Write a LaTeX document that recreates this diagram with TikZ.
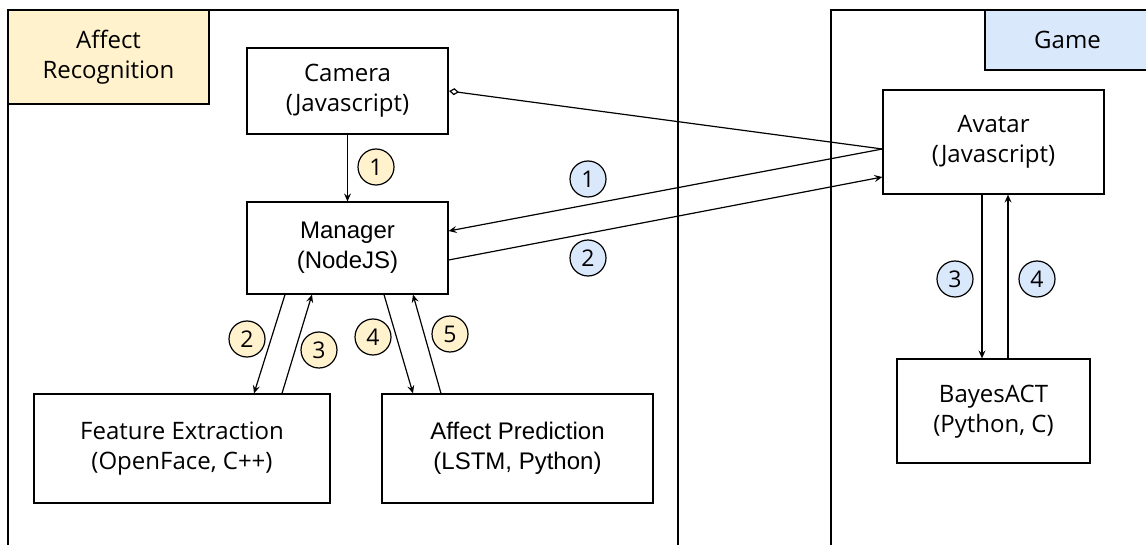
\documentclass[tikz,border=0pt]{standalone}
\usepackage{fontspec}
\setmainfont{Open Sans}
\newfontfamily\arialfont{Liberation Sans}
\usetikzlibrary{arrows.meta}
\definecolor{yfill}{HTML}{FFF2CC}
\definecolor{bfill}{HTML}{DAE8FC}
\newcommand{\twolines}[2]{\raisebox{-4pt}{\begin{tabular}{@{}c@{}}#1\\#2\end{tabular}}}
\tikzset{
  box/.style={draw=black, line width=1.2pt, fill=white, align=center, inner sep=0pt,
    font=\fontsize{24}{30}\selectfont},
  numc/.style={draw=black, line width=1.2pt, circle, minimum size=36pt, inner sep=0pt,
    font=\fontsize{23}{29}\selectfont},
  ycirc/.style={numc, fill=yfill},
  bcirc/.style={numc, fill=bfill},
  frame/.style={draw=black, line width=1.2pt},
  conn/.style={draw=black, line width=1.2pt, -{Stealth[length=8pt,width=7pt,inset=3pt]}},
  diam/.style={draw=black, line width=1.2pt, {Diamond[open,length=10pt,width=7pt]}-}
}
\begin{document}
\begin{tikzpicture}[x=1pt,y=-1pt]
\useasboundingbox (0,0) rectangle (1146,545);
\clip (0,0) rectangle (1146,545);
\fill[white] (0,0) rectangle (1146,545);
% frames
\draw[frame] (8,560) -- (8,10) -- (678,10) -- (678,560);
\draw[frame] (831,560) -- (831,10) -- (1160,10);
% container labels
\node[box, fill=yfill, minimum width=201pt, minimum height=94pt] (arlab) at (108.5,57) {Affect\\Recognition};
\node[box, fill=bfill, minimum width=165pt, minimum height=60pt] (gamelab) at (1067.5,40) {Game};
% boxes
\node[box, minimum width=201pt, minimum height=86pt] (cam) at (347.5,91) {\twolines{Camera}{(Javascript)}};
\node[box, minimum width=201pt, minimum height=92pt] (mgr) at (347.5,248) {\arialfont\twolines{Manager}{(NodeJS)}};
\node[box, minimum width=296pt, minimum height=109pt] (fe) at (182,448.5) {\twolines{Feature Extraction}{(OpenFace, C++)}};
\node[box, minimum width=271pt, minimum height=109pt] (ap) at (517.5,448.5) {\arialfont\twolines{Affect Prediction}{(LSTM, Python)}};
\node[box, minimum width=221pt, minimum height=104pt] (av) at (993.5,142) {\twolines{Avatar}{(Javascript)}};
\node[box, minimum width=193pt, minimum height=104pt] (ba) at (993.5,411) {\twolines{BayesACT}{(Python, C)}};
% connectors
\draw[conn] (cam) -- (mgr);
\draw[diam] ([xshift=0.5pt]cam.east) -- ([yshift=-7pt]av.west);
\draw[conn] ([yshift=-7pt]av.west) -- ([yshift=17pt]mgr.east);
\draw[conn] ([yshift=-12pt]mgr.east) -- ([yshift=-35pt]av.west);
\draw[conn] ([xshift=-62.5pt]mgr.south) -- ([xshift=72pt]fe.north);
\draw[conn] ([xshift=100pt]fe.north) -- ([xshift=-35.5pt]mgr.south);
\draw[conn] ([xshift=36.5pt]mgr.south) -- ([xshift=-104.5pt]ap.north);
\draw[conn] ([xshift=-76.5pt]ap.north) -- ([xshift=65.5pt]mgr.south);
\draw[conn] ([xshift=-11.5pt]av.south) -- ([xshift=-11.5pt]ba.north);
\draw[conn] ([xshift=14.5pt]ba.north) -- ([xshift=14.5pt]av.south);
% step numbers
\node[ycirc] (y1) at (376,167) {1};
\node[ycirc] (y2) at (247,339) {2};
\node[ycirc] (y3) at (319,350) {3};
\node[ycirc] (y4) at (373,337) {4};
\node[ycirc] (y5) at (450,334) {5};
\node[bcirc] (b1) at (588,179) {1};
\node[bcirc] (b2) at (588,258) {2};
\node[bcirc] (b3) at (955,279) {3};
\node[bcirc] (b4) at (1037,279) {4};
\end{tikzpicture}
\end{document}
